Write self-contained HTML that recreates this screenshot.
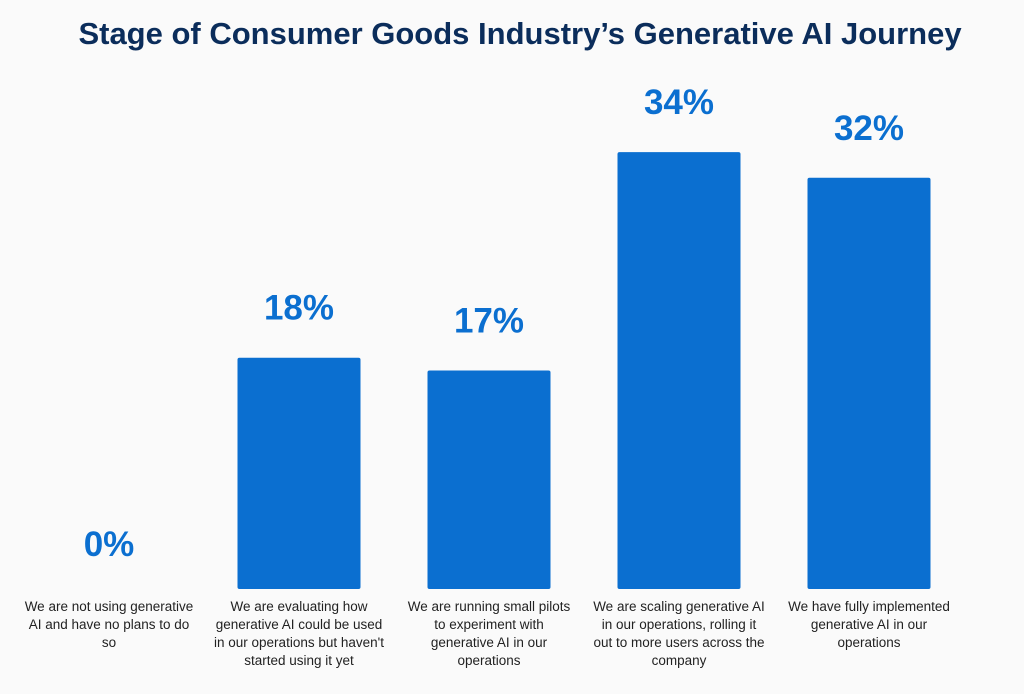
<!DOCTYPE html>
<html><head><meta charset="utf-8"><style>
html,body{margin:0;padding:0;background:#fafafa;}
body{width:1024px;height:689px;overflow:hidden;font-family:"Liberation Sans",sans-serif;}
</style></head><body>
<svg id="chart" width="1024" height="689">
<rect width="1024" height="689" fill="#fafafa"/>
<text x="520" y="44" text-anchor="middle" font-size="31" font-weight="bold" fill="#0b2d5b">Stage of Consumer Goods Industry’s Generative AI Journey</text>
<g id="bars"></g>
</svg>
<script>
const categories = [
 ["We are not using generative","AI and have no plans to do","so"],
 ["We are evaluating how","generative AI could be used","in our operations but haven't","started using it yet"],
 ["We are running small pilots","to experiment with","generative AI in our","operations"],
 ["We are scaling generative AI","in our operations, rolling it","out to more users across the","company"],
 ["We have fully implemented","generative AI in our","operations"]
];
const values = [0,18,17,34,32];
const valueLabels = ["0%","18%","17%","34%","32%"];
const baseY = 589, pxPer = 12.85, x0 = 109, step = 190, barW = 123;
const xPos = i => x0 + i*step;
const yPos = v => baseY - v*pxPer;
const g = document.getElementById('bars');
const NS = "http://www.w3.org/2000/svg";
values.forEach((v,i)=>{
  const cx = xPos(i);
  if (v>0){
    const r = document.createElementNS(NS,'rect');
    r.setAttribute('x',cx-barW/2); r.setAttribute('y',yPos(v));
    r.setAttribute('width',barW); r.setAttribute('height',baseY-yPos(v));
    r.setAttribute('fill','#0b6fd0'); r.setAttribute('rx','2');
    
    
    g.appendChild(r);
  }
  const t = document.createElementNS(NS,'text');
  t.setAttribute('x',cx); t.setAttribute('y',yPos(v)-(v>0?38:33));
  t.setAttribute('text-anchor','middle'); t.setAttribute('font-size','35');
  t.setAttribute('font-weight','bold'); t.setAttribute('fill','#0b6fd0');
  t.textContent = valueLabels[i];
  
  
  g.appendChild(t);
  categories[i].forEach((line,j)=>{
    const c = document.createElementNS(NS,'text');
    c.setAttribute('x',cx); c.setAttribute('y',611+j*18);
    c.setAttribute('text-anchor','middle'); c.setAttribute('font-size','13.5');
    c.setAttribute('fill','#222');
    c.textContent = line;
    
    
    g.appendChild(c);
  });
});
</script>
</body></html>
